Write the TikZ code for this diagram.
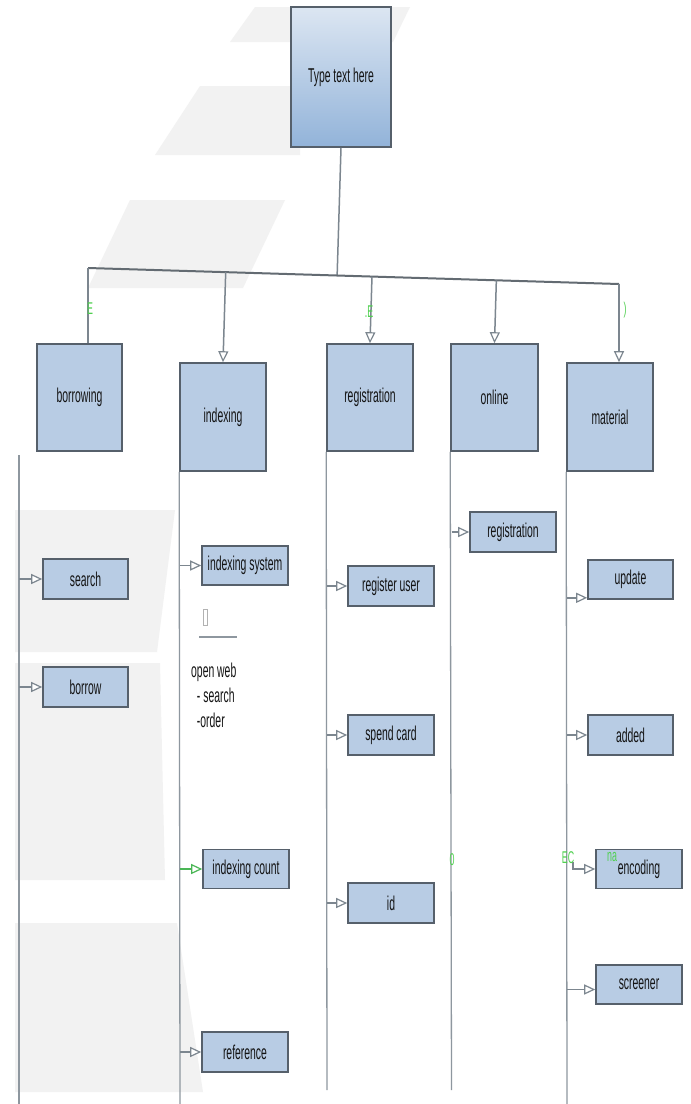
\documentclass[tikz,border=0pt]{standalone}
\usepackage{fontspec}
\newfontfamily\narrowfont{Liberation Sans}[FakeStretch=0.52]
\usetikzlibrary{arrows.meta,calc}
\definecolor{boxfill}{HTML}{B8CCE4}
\definecolor{boxline}{HTML}{56606B}
\definecolor{conncol}{HTML}{7C868F}
\definecolor{lanecol}{HTML}{8E979F}
\definecolor{wm}{HTML}{F2F2F2}
\definecolor{gtxt}{HTML}{4FD04F}
\definecolor{toptop}{HTML}{DCE6F2}
\definecolor{topbot}{HTML}{92B3D9}
\definecolor{txt}{HTML}{141414}
\begin{document}
\begin{tikzpicture}[x=1pt,y=-1pt,
  box/.style={draw=boxline, line width=1.6pt, fill=boxfill, minimum width=86pt, minimum height=40pt, inner sep=0pt, font=\narrowfont\fontsize{20}{22}\selectfont, text=txt},
  bigbox/.style={box, minimum height=107pt},
  topbox/.style={box, top color=toptop, bottom color=topbot, minimum width=100pt, minimum height=140pt},
  conn/.style={draw=conncol, line width=1.5pt},
  arr/.style={conn, -{Triangle[length=11pt,width=10pt,fill=white,line width=1.2pt]}},
  lane/.style={draw=lanecol, line width=1.3pt},
  bus/.style={draw=conncol!80!black, line width=2pt},
  glabel/.style={text=gtxt, font=\narrowfont\fontsize{17}{17}\selectfont, inner sep=0pt},
  plaintext/.style={font=\narrowfont\fontsize{20}{25}\selectfont, align=left, inner sep=0pt, text=txt}
]
\useasboundingbox (0,0) rectangle (691,1104);
\fill[white] (0,0) rectangle (691,1104);
% watermark
\fill[wm] (255,7) -- (410,7) -- (393,42) -- (230,42) -- cycle;
\fill[wm] (200,86) -- (300,86) -- (300,155) -- (155,155) -- cycle;
\fill[wm] (130,200) -- (285,200) -- (243,288) -- (88,288) -- cycle;
\fill[wm] (15,510) -- (175,510) -- (157,652) -- (15,652) -- cycle;
\fill[wm] (15,663) -- (160,663) -- (165,880) -- (15,880) -- cycle;
\fill[wm] (15,923) -- (177,923) -- (203,1092) -- (15,1092) -- cycle;

% top
\node[topbox] (top) at (341,77) {Type text here};
% main boxes
\node[bigbox, minimum width=85pt] (borrowing) at (79.5,397.5) {borrowing};
\node[bigbox, minimum height=108pt] (indexing) at (223,417) {indexing};
\node[bigbox] (registration) at (370,397.5) {registration};
\node[bigbox, minimum width=87pt] (online) at (494.5,397.5) {online};
\node[bigbox, minimum height=108pt] (material) at (610,417) {material};

% sub boxes
\node[box, minimum width=85pt] (search) at (85.5,579) {search};
\node[box, minimum width=85pt] (borrow) at (85.5,687) {borrow};
\node[box, minimum height=39pt] (idxsys) at (245,565.5) {indexing system};
\node[box, minimum height=39pt] (idxcount) at (246,869) {indexing count};
\node[box] (reference) at (245,1052) {reference};
\node[box] (reguser) at (391,586) {register user};
\node[box] (spend) at (391,735) {spend card};
\node[box] (id) at (391,903) {id};
\node[box] (onreg) at (513,532) {registration};
\node[box, minimum width=85pt, minimum height=39pt] (update) at (630.5,579.5) {update};
\node[box, minimum width=85pt] (added) at (630.5,735) {added};
\node[box, minimum height=39pt] (encoding) at (639,869) {encoding};
\node[box, minimum height=39pt] (screener) at (639,984.5) {screener};

% text
\node[plaintext, anchor=north west] (openweb) at (191,663) {open web\\\ \ - search\\\ \ -order};
\node[draw=gray!60, line width=0.6pt, minimum width=4pt, minimum height=16pt, inner sep=0pt] (sym) at (205,617) {};
\coordinate (ulA) at (199,637);
\coordinate (ulB) at (237,637);
\draw[lane] (ulA) -- (ulB);

% bus
\coordinate (busL) at (88,268);
\coordinate (busR) at (619,284);
\coordinate (busM) at ($(busL)!(top.south)!(busR)$);
\draw[conn] (top.south) -- (busM);
\draw[bus] (busL) -- (busR);
\draw[conn] (busL) -- (busL |- borrowing.north);
\draw[arr] ($(busL)!(indexing.north)!(busR)$) -- (indexing.north);
\draw[arr] ($(busL)!(registration.north)!(busR)$) -- (registration.north);
\draw[arr] ($(busL)!(online.north)!(busR)$) -- (online.north);
\draw[arr] (busR) -- (busR |- material.north);

% lanes
\coordinate (L1top) at (19,455);
\coordinate (L1bot) at (19,1104);
\coordinate (L2bot) at (180,1104);
\coordinate (L3bot) at (327,1090);
\coordinate (L4bot) at (451.5,1090);
\coordinate (L5bot) at (567,1104);
\draw[lane] (L1top) -- (L1bot);
\draw[lane] (indexing.south west) -- (L2bot);
\draw[lane] (registration.south west) -- (L3bot);
\draw[lane] (online.south west) -- (L4bot);
\draw[lane] (material.south west) -- (L5bot);

% branch arrows
\draw[arr] (L1top |- search.west) -- (search.west);
\draw[arr] (L1top |- borrow.west) -- (borrow.west);
\draw[arr] (L2bot |- idxsys.west) -- (idxsys.west);
\draw[arr, draw=conncol!60!green] (L2bot |- idxcount.west) -- (idxcount.west);
\draw[arr] (L2bot |- reference.west) -- (reference.west);
\draw[arr] (L3bot |- reguser.west) -- (reguser.west);
\draw[arr] (L3bot |- spend.west) -- (spend.west);
\draw[arr] (L3bot |- id.west) -- (id.west);
\draw[arr] (L4bot |- onreg.west) -- (onreg.west);
\coordinate (updT) at ([yshift=2pt]update.south west);
\draw[arr] (L5bot |- updT) -- (updT);
\draw[arr] (L5bot |- added.west) -- (added.west);
\coordinate (encbend) at (573,862);
\draw[arr] (encbend) |- (encoding.west);
\coordinate (scrT) at ([yshift=-5pt]screener.west);
\draw[arr] (L5bot |- scrT) -- (scrT);

% green marks
\node[glabel] (g1) at (90,309) {E};
\node[glabel] (g2) at (369,312) {.E};
\node[glabel] (g3) at (625,310) {)};
\node[glabel] (g4) at (452,860) {0};
\node[glabel] (g5) at (568,858) {EC};
\node[glabel] (g6) at (612,857) {na};
\end{tikzpicture}
\end{document}
